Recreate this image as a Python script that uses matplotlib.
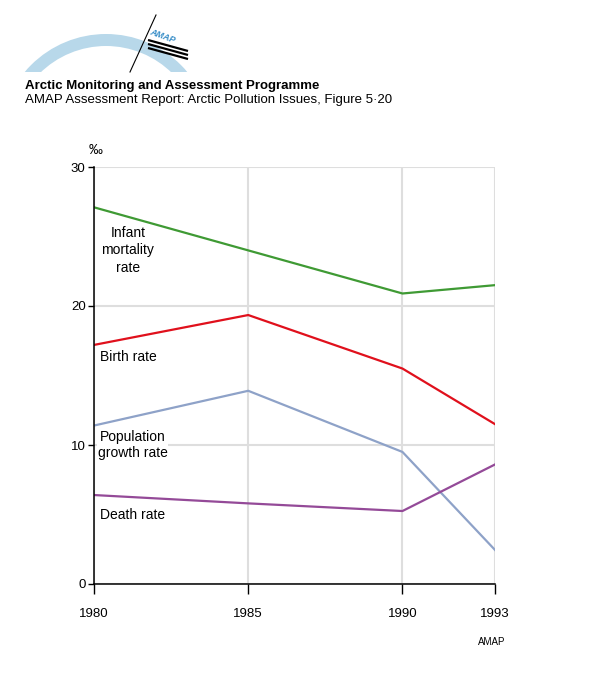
import numpy as np
import matplotlib.pyplot as plt
from matplotlib.patches import Wedge, Rectangle

plt.rcParams['font.family'] = ['Liberation Sans', 'DejaVu Sans']

years = [1980, 1985, 1990, 1993]
infant_mortality = [27.1, 24.0, 20.9, 21.5]
birth_rate = [17.2, 19.35, 15.5, 11.5]
pop_growth = [11.4, 13.9, 9.5, 2.45]
death_rate = [6.4, 5.8, 5.25, 8.6]
x_ticks = [1980, 1985, 1990, 1993]
y_ticks = [0, 10, 20, 30]

fig = plt.figure(figsize=(5.92, 6.88), dpi=100)

# header / logo drawn in pixel space
hdr = fig.add_axes([0, 0, 1, 1], zorder=0)
hdr.set_xlim(0, 592)
hdr.set_ylim(688, 0)
hdr.axis('off')
arc = Wedge((106, 140), 106, 180, 360, width=12, facecolor='#b8d8ea', edgecolor='none')
hdr.add_patch(arc)
arc.set_clip_path(Rectangle((0, 0), 592, 72, transform=hdr.transData))
hdr.plot([130, 156], [72, 15], color='black', lw=0.8)
hdr.text(149, 36, 'AMAP', color='#3a8fc8', fontsize=6.5, fontweight='bold',
         style='italic', rotation=-20, ha='left', va='center')
for dy in [0, 4, 8]:
    hdr.plot([148, 188], [40 + dy, 51 + dy], color='black', lw=1.6, solid_capstyle='butt')
hdr.text(25, 89, 'Arctic Monitoring and Assessment Programme', fontsize=9.5,
         fontweight='bold')
hdr.text(25, 103, 'AMAP Assessment Report: Arctic Pollution Issues, Figure 5\u00b720',
         fontsize=9.5)
hdr.text(492, 642, 'AMAP', fontsize=7, ha='center', va='center')

ax = fig.add_axes([94 / 592, 1 - 584 / 688, (495 - 94) / 592, (584 - 167) / 688], zorder=1)
ax.patch.set_alpha(0)
ax.set_xlim(1980, 1993)
ax.set_ylim(0, 30)

ax.plot(years, infant_mortality, color='#3f9a34', lw=1.6, zorder=3)
ax.plot(years, birth_rate, color='#e0101c', lw=1.6, zorder=3)
ax.plot(years, pop_growth, color='#8ea2c8', lw=1.6, zorder=3)
ax.plot(years, death_rate, color='#944a98', lw=1.6, zorder=3)

ax.set_xticks(x_ticks)
ax.set_yticks(y_ticks)
ax.set_xticklabels([str(v) for v in x_ticks])
ax.set_yticklabels([str(v) for v in y_ticks])
ax.grid(True, color='#dedede', lw=1.5, zorder=1)
ax.set_axisbelow(True)
for s in ['top', 'right']:
    ax.spines[s].set_visible(False)
for s in ['left', 'bottom']:
    ax.spines[s].set_linewidth(1.1)
    ax.spines[s].set_zorder(4)
ax.tick_params(axis='x', direction='out', length=7.5, width=1.0, pad=10, labelsize=9.5)
ax.tick_params(axis='y', direction='out', length=4, width=1.0, pad=2, labelsize=9.5)

box = dict(facecolor='white', edgecolor='none', pad=0.5)
ax.text(1981.1, 24.0, 'Infant\nmortality\nrate', ha='center', va='center',
        fontsize=10, linespacing=1.3, bbox=box, zorder=2)
ax.text(1980.2, 16.3, 'Birth rate', ha='left', va='center', fontsize=10, bbox=box, zorder=2)
ax.text(1981.25, 10.0, 'Population\ngrowth rate', ha='center', va='center',
        fontsize=10, linespacing=1.2, bbox=box, zorder=2)
ax.text(1980.2, 4.95, 'Death rate', ha='left', va='center', fontsize=10, bbox=box, zorder=2)
ax.text(1980.05, 31.2, '\u2030', ha='center', va='center', fontsize=10)

fig.savefig('out.png', dpi=100)
